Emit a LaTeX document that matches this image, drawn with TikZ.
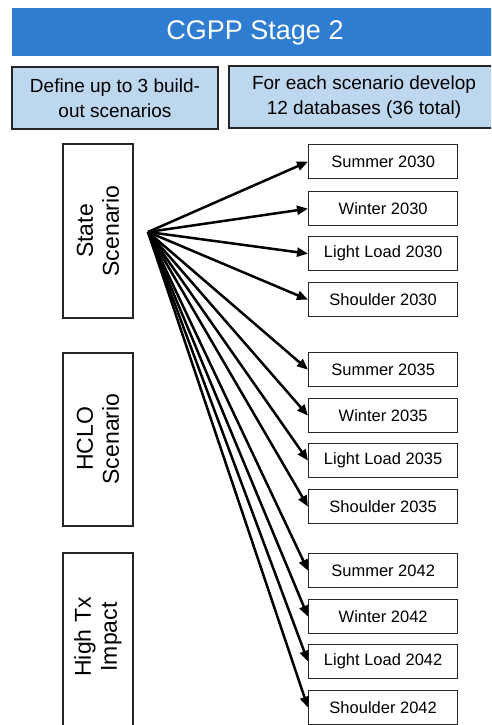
\documentclass[tikz,border=0pt]{standalone}
\usepackage{fontspec}
\setmainfont{Liberation Sans}
\usetikzlibrary{arrows.meta}
\definecolor{titleblue}{HTML}{2E7DD0}
\definecolor{lightblue}{HTML}{BDD7EE}
\begin{document}
\begin{tikzpicture}[x=1pt,y=-1pt,
  titlebar/.style={fill=titleblue,draw=none,text=white,font=\fontsize{27}{30}\selectfont},
  subbox/.style={fill=lightblue,draw=black!85,line width=1.3pt,align=center,font=\fontsize{19}{25}\selectfont},
  scenbox/.style={draw=black!85,line width=1.3pt,fill=white},
  scentext/.style={rotate=90,align=center,font=\fontsize{23}{26}\selectfont},
  dbbox/.style={draw=black!85,line width=1.3pt,fill=white,minimum width=149pt,minimum height=34pt,inner sep=0pt,font=\fontsize{16.5}{19}\selectfont,anchor=north west},
  conn/.style={line width=2.5pt,-{Triangle[length=11pt,width=9pt]}}]
\useasboundingbox (0,0) rectangle (491,725);
\begin{scope}
\clip (0,0) rectangle (491,725);
\fill[white] (0,0) rectangle (491,725);
% title bar
\path[titlebar] (12,8) rectangle (495,56);
\node[text=white,font=\fontsize{27}{30}\selectfont] (title) at (255,33) {CGPP Stage 2};
% sub boxes
\draw[fill=lightblue,draw=black!85,line width=1.3pt] (12,67) rectangle (218,129);
\node[align=center,font=\fontsize{19}{25}\selectfont] (defbox) at (115,98) {Define up to 3 build-\\out scenarios};
\draw[fill=lightblue,draw=black!85,line width=1.3pt] (229,66) rectangle (500,128);
\node[align=center,font=\fontsize{19}{25}\selectfont] (forbox) at (364,97) {For each scenario develop\\12 databases (36 total)};
% scenario boxes
\draw[scenbox] (63,144) rectangle (133,318);
\node[scentext] (state) at (98,231) {State\\Scenario};
\draw[scenbox] (63,353) rectangle (133,526);
\node[scentext] (hclo) at (98,439) {HCLO\\Scenario};
\draw[scenbox] (63,553) rectangle (133,740);
\node[scentext] (hightx) at (98,637) {High Tx\\Impact};
% database boxes
\node[dbbox] (s30) at (308,144) {Summer 2030};
\node[dbbox] (w30) at (308,191) {Winter 2030};
\node[dbbox] (l30) at (308,236) {Light Load 2030};
\node[dbbox] (h30) at (308,282) {Shoulder 2030};
\node[dbbox] (s35) at (308,352) {Summer 2035};
\node[dbbox] (w35) at (308,398) {Winter 2035};
\node[dbbox] (l35) at (308,443) {Light Load 2035};
\node[dbbox] (h35) at (308,489) {Shoulder 2035};
\node[dbbox] (s42) at (308,553) {Summer 2042};
\node[dbbox] (w42) at (308,599) {Winter 2042};
\node[dbbox] (l42) at (308,644) {Light Load 2042};
\node[dbbox] (h42) at (308,690) {Shoulder 2042};
% connectors
\coordinate (src) at (148,232);
\foreach \t in {s30,w30,l30,h30,s35,w35,l35,h35,s42,w42,l42,h42}
  \draw[conn] (src) -- (\t.west);
\end{scope}
\end{tikzpicture}
\end{document}
